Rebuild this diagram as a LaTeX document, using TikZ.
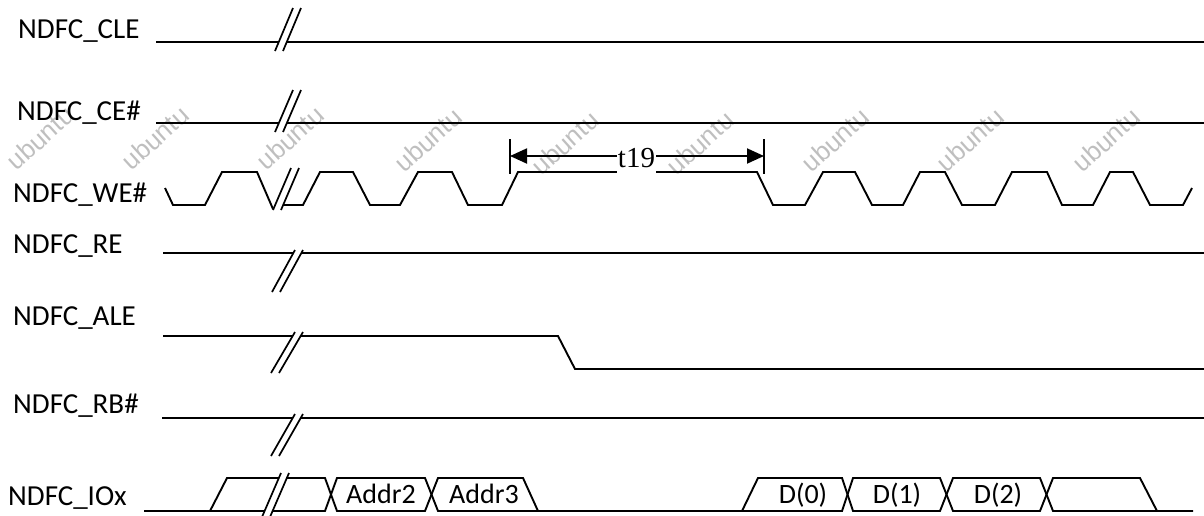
\documentclass[tikz,border=0pt]{standalone}
\usepackage{fontspec}
\setmainfont{Carlito}
\newfontfamily\serifft{Liberation Serif}
\newfontfamily\wmfont{Liberation Sans}
\usetikzlibrary{arrows.meta}
\begin{document}
\begin{tikzpicture}[x=1pt,y=-1pt,
  sig/.style={line width=1.9pt, line join=miter},
  brk/.style={line width=1.7pt},
  lbl/.style={anchor=base west, inner sep=0, font=\fontsize{29}{31}\selectfont},
  bus/.style={anchor=base, inner sep=0, font=\fontsize{28}{30}\selectfont},
  wm/.style={rotate=42, text=gray!50, font=\wmfont\fontsize{26}{28}\selectfont, inner sep=0}]
\useasboundingbox (0,0) rectangle (1204,515);

% watermarks
\foreach \wx/\wy [count=\i] in {40/138,155/138,290/138,428/140,565/143,700/143,835/140,970/140,1106/140}
  \node[wm] (wm\i) at (\wx,\wy) {ubuntu};

% labels
\node[lbl] (lcle) at (18,38) {NDFC\_CLE};
\node[lbl] (lce)  at (17,120) {NDFC\_CE\#};
\node[lbl] (lwe)  at (13,202) {NDFC\_WE\#};
\node[lbl] (lre)  at (13,253) {NDFC\_RE};
\node[lbl] (lale) at (13,325) {NDFC\_ALE};
\node[lbl] (lrb)  at (13,413) {NDFC\_RB\#};
\node[lbl] (lio)  at (8,505) {NDFC\_IOx};

% CLE
\draw[sig] (156,42) -- (279,42);
\draw[sig] (287,42) -- (1204,42);
\draw[brk] (275,51) -- (293,8);
\draw[brk] (283,51) -- (301,8);

% CE#
\draw[sig] (156,123) -- (279,123);
\draw[sig] (287,123) -- (1204,123);
\draw[brk] (275,132) -- (293,90);
\draw[brk] (283,132) -- (301,90);

% WE#
\draw[sig] (165,188) -- (173,205) -- (205,205) -- (222,172) -- (257,172) -- (273,209);
\draw[sig] (283,205) -- (303,205) -- (320,172) -- (353,172) -- (370,205) -- (400,205)
  -- (418,172) -- (452,172) -- (468,205) -- (502,205) -- (518,172) -- (757,172)
  -- (773,205) -- (805,205) -- (823,172) -- (855,172) -- (872,205) -- (903,205)
  -- (920,172) -- (945,172) -- (962,205) -- (995,205) -- (1012,172) -- (1047,172)
  -- (1062,205) -- (1093,205) -- (1110,172) -- (1133,172) -- (1150,205) -- (1183,205)
  -- (1192,188);
\draw[brk] (273,210) -- (291,168);
\draw[brk] (281,210) -- (299,168);

% t19
\coordinate (ta) at (510,156);
\coordinate (tb) at (764,156);
\draw[sig] (510,139) -- (510,174);
\draw[sig] (764,139) -- (764,174);
\draw[sig, {Triangle[length=17pt,width=15pt]}-{Triangle[length=17pt,width=15pt]}] (ta) -- (tb);
\node[fill=white, inner sep=0, minimum width=39pt, minimum height=32pt,
      font=\serifft\fontsize{29}{31}\selectfont] (t19) at (636.5,158) {t19};

% RE
\draw[sig] (163,253) -- (293,253);
\draw[sig] (301,253) -- (1204,253);
\draw[brk] (272,292) -- (295,250);
\draw[brk] (280,292) -- (303,250);

% ALE
\draw[sig] (163,336) -- (293,336);
\draw[sig] (301,336) -- (558,336) -- (575,369) -- (1204,369);
\draw[brk] (271,373) -- (295,332);
\draw[brk] (279,373) -- (303,332);

% RB#
\draw[sig] (162,418) -- (293,418);
\draw[sig] (301,418) -- (1204,418);
\draw[brk] (271,456) -- (295,414);
\draw[brk] (279,456) -- (303,414);

% IOx
\draw[sig] (144,511) -- (265,511);
\draw[sig] (210,511) -- (227,478) -- (279,478);
\draw[brk] (262,517) -- (281,473);
\draw[brk] (270,517) -- (289,473);
\draw[sig] (287,478) -- (325,478) -- (337,511) -- (425,511) -- (438,478) -- (523,478) -- (538,511);
\draw[sig] (273,511) -- (325,511) -- (337,478) -- (425,478) -- (438,511) -- (742,511)
  -- (758,478) -- (842,478) -- (853,511) -- (940,511) -- (953,478) -- (1040,478)
  -- (1053,511) -- (1193,511);
\draw[sig] (742,511) -- (842,511) -- (853,478) -- (940,478) -- (953,511) -- (1040,511)
  -- (1053,478) -- (1140,478) -- (1157,511);
\node[bus] (a2) at (381,503) {Addr2};
\node[bus] (a3) at (484,503) {Addr3};
\node[bus] (d0) at (803,503) {D(0)};
\node[bus] (d1) at (897,503) {D(1)};
\node[bus] (d2) at (998,503) {D(2)};
\end{tikzpicture}
\end{document}
